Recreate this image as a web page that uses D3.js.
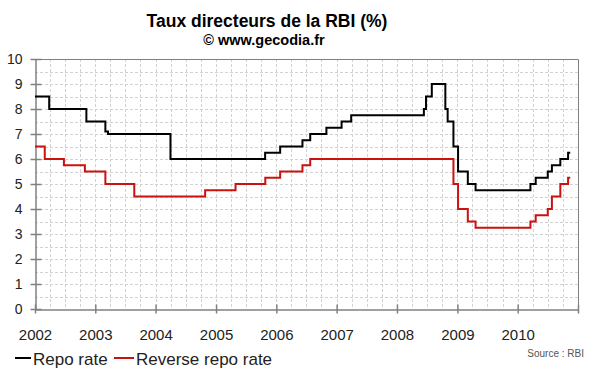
<!DOCTYPE html>
<html>
<head>
<meta charset="utf-8">
<script src="https://cdn.jsdelivr.net/npm/d3@7"></script>
<style>
  body { margin: 0; background: #fff; }
  svg { display: block; font-family: Arial, "Liberation Sans", sans-serif; }
</style>
</head>
<body>
<svg id="chart" width="600" height="372"></svg>
<script>
const repoDates = ['2002-01-01', '2002-03-28', '2002-11-08', '2003-03-03', '2003-03-19', '2004-03-31',
    '2005-10-25', '2006-01-24', '2006-06-08', '2006-07-25', '2006-10-31', '2007-01-31', '2007-03-30',
    '2008-06-12', '2008-06-25', '2008-07-30', '2008-10-20', '2008-11-03', '2008-12-08', '2009-01-05',
    '2009-03-05', '2009-04-21', '2010-03-19', '2010-04-20', '2010-07-02', '2010-07-27', '2010-09-16',
    '2010-11-02', '2010-11-15']
const repoValues = [8.5, 8.0, 7.5, 7.1, 7.0, 6.0,
    6.25, 6.5, 6.75, 7.0, 7.25, 7.5, 7.75,
    8.0, 8.5, 9.0, 8.0, 7.5, 6.5, 5.5,
    5.0, 4.75, 5.0, 5.25, 5.5, 5.75, 6.0,
    6.25, 6.25]

const reverseDates = ['2002-01-01', '2002-03-01', '2002-06-25', '2002-10-30', '2003-03-03', '2003-08-25',
    '2004-10-27', '2005-04-29', '2005-10-26', '2006-01-24', '2006-06-08', '2006-07-25',
    '2008-12-08', '2009-01-05', '2009-03-05', '2009-04-21', '2010-03-19', '2010-04-20',
    '2010-07-02', '2010-07-27', '2010-09-16', '2010-11-02', '2010-11-15']
const reverseValues = [6.5, 6.0, 5.75, 5.5, 5.0, 4.5,
    4.75, 5.0, 5.25, 5.5, 5.75, 6.0,
    5.0, 4.0, 3.5, 3.25, 3.5, 3.75,
    4.0, 4.5, 5.0, 5.25, 5.25]

const yearTicks = [2002, 2003, 2004, 2005, 2006, 2007, 2008, 2009, 2010, 2011]
const yearLabels = ['2002', '2003', '2004', '2005', '2006', '2007', '2008', '2009', '2010', '']
const valueTicks = [0, 1, 2, 3, 4, 5, 6, 7, 8, 9, 10]

const svg = d3.select('#chart')
const plotL = 35, plotR = 578, plotT = 59, plotB = 309
const parse = d3.timeParse('%Y-%m-%d')

const x = d3.scaleTime()
    .domain([new Date(2002, 0, 1), new Date(2011, 0, 1)])
    .range([plotL, plotR])
const y = d3.scaleLinear().domain([0, 10]).range([plotB, plotT])

// title
svg.append('text')
    .attr('x', 267).attr('y', 27)
    .attr('text-anchor', 'middle')
    .attr('font-size', 17.5).attr('font-weight', 'bold')
    .text('Taux directeurs de la RBI (%)')
svg.append('text')
    .attr('x', 264).attr('y', 44.5)
    .attr('text-anchor', 'middle')
    .attr('font-size', 14.5).attr('font-weight', 'bold')
    .text('© www.gecodia.fr')

// grid (every half point, every quarter)
const hGrid = d3.range(1, 20).map(i => i / 2)
const vGrid = d3.range(1, 36).map(i => new Date(2002 + Math.floor(i / 4), (i % 4) * 3, 1))
const grid = svg.append('g')
    .attr('stroke', '#d2d2d2')
    .attr('stroke-dasharray', '3,2')
    .attr('stroke-width', 1)
grid.selectAll('.h').data(hGrid).join('line')
    .attr('x1', plotL).attr('x2', plotR)
    .attr('y1', d => Math.round(y(d)) + 0.5).attr('y2', d => Math.round(y(d)) + 0.5)
grid.selectAll('.v').data(vGrid).join('line')
    .attr('y1', plotT).attr('y2', plotB)
    .attr('x1', d => Math.round(x(d)) + 0.5).attr('x2', d => Math.round(x(d)) + 0.5)

// frame top/right
svg.append('path')
    .attr('d', `M${plotL},${plotT + 0.5}H${plotR + 0.5}V${plotB}`)
    .attr('fill', 'none').attr('stroke', '#808080')

// y axis
const yAxis = svg.append('g')
    .attr('transform', `translate(${plotL + 0.5},0)`)
    .call(d3.axisLeft(y).tickValues(valueTicks).tickSize(5).tickPadding(8).tickSizeOuter(0))
yAxis.select('.domain').attr('stroke', '#808080').attr('stroke-width', 1.5)
yAxis.selectAll('.tick line').attr('x1', -5).attr('x2', 6).attr('stroke', '#808080').attr('stroke-width', 1.5)
yAxis.selectAll('.tick text').attr('font-size', 14).attr('fill', '#222').attr('font-family', 'Arial, "Liberation Sans", sans-serif')

// x axis
const xAxis = svg.append('g')
    .attr('transform', `translate(0,${plotB + 0.5})`)
    .call(d3.axisBottom(x)
        .tickValues(yearTicks.map(yr => new Date(yr, 0, 1)))
        .tickFormat((d, i) => yearLabels[i])
        .tickSize(4).tickPadding(16).tickSizeOuter(0))
xAxis.select('.domain').attr('stroke', '#808080').attr('stroke-width', 1.5)
xAxis.selectAll('.tick line').attr('y1', -5).attr('y2', 4).attr('stroke', '#808080').attr('stroke-width', 1.5)
xAxis.selectAll('.tick text').attr('font-size', 15).attr('fill', '#222').attr('font-family', 'Arial, "Liberation Sans", sans-serif')

// series
const line = d3.line()
    .x(d => x(d.date))
    .y(d => y(d.value))
    .curve(d3.curveStepAfter)

const repo = repoDates.map((d, i) => ({ date: parse(d), value: repoValues[i] }))
const reverse = reverseDates.map((d, i) => ({ date: parse(d), value: reverseValues[i] }))

svg.append('path').datum(reverse)
    .attr('d', line)
    .attr('fill', 'none').attr('stroke', '#cc1111').attr('stroke-width', 2)
svg.append('path').datum(repo)
    .attr('d', line)
    .attr('fill', 'none').attr('stroke', '#000').attr('stroke-width', 2)

// legend
const legend = [
    { name: 'Repo rate', color: '#000', x1: 15, x2: 31 },
    { name: 'Reverse repo rate', color: '#cc1111', x1: 114, x2: 134 }
]
const lg = svg.append('g')
lg.selectAll('line').data(legend).join('line')
    .attr('x1', d => d.x1).attr('x2', d => d.x2)
    .attr('y1', 358).attr('y2', 358)
    .attr('stroke', d => d.color).attr('stroke-width', 2)
lg.selectAll('text').data(legend).join('text')
    .attr('x', d => d.x2 + 2).attr('y', 364.5)
    .attr('font-size', 17).attr('fill', '#222')
    .text(d => d.name)

svg.append('text')
    .attr('x', 584).attr('y', 356.5)
    .attr('text-anchor', 'end')
    .attr('font-size', 10).attr('fill', '#555')
    .text('Source : RBI')
</script>
</body>
</html>
